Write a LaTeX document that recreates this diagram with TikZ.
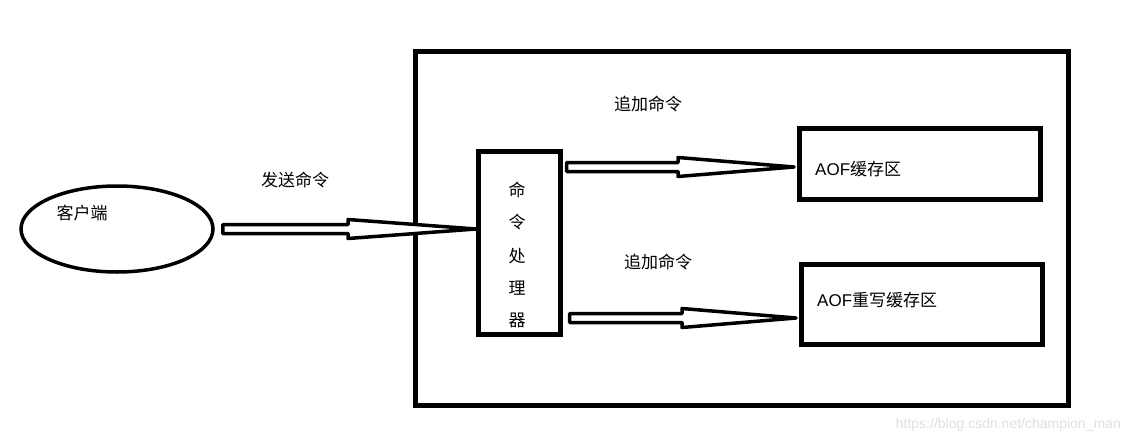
\documentclass[tikz,border=0pt]{standalone}
\usepackage{fontspec}
\newfontfamily\cjk{Noto Sans CJK SC}
\newfontfamily\lat{Liberation Sans}
\usetikzlibrary{calc,shapes.geometric}
\tikzset{
  box/.style={draw=black,line width=4.5pt,fill=white},
  lbl/.style={font=\cjk\fontsize{17}{19}\selectfont,inner sep=0pt},
  arrowline/.style={draw=black,line width=3.5pt,line join=round,fill=white},
}
\newcommand\fatarr[3]{% start, tip, x of head start
  \draw[arrowline] let \p1=(#1), \p2=(#2) in
    (\x1,\y2+4.5pt) -- (#3,\y2+4.5pt) -- (#3,\y2+9.5pt) -- (\x2,\y2)
    -- (#3,\y2-9.5pt) -- (#3,\y2-4.5pt) -- (\x1,\y2-4.5pt) -- cycle;}
\begin{document}
\begin{tikzpicture}[x=1pt,y=-1pt]
\useasboundingbox[fill=white] (0,0) rectangle (1129,442);
% client
\node[ellipse,draw,line width=3.5pt,minimum width=192pt,minimum height=86pt,inner sep=0pt] (client) at (117,229) {};
\node[lbl] (clientlbl) at (82,213) {客户端};
% server
\node[box,minimum width=653pt,minimum height=354pt,anchor=north west,inner sep=0pt] (server) at (413,49) {};
\node[box,minimum width=82pt,minimum height=183pt,anchor=north west,inner sep=0pt] (proc) at (476,149) {};
\node[lbl] (p1) at (517,190) {命};
\node[lbl] (p2) at (517,222) {令};
\node[lbl] (p3) at (517,256) {处};
\node[lbl] (p4) at (517,288) {理};
\node[lbl] (p5) at (517,320) {器};
\node[box,minimum width=241pt,minimum height=71pt,anchor=north west,inner sep=0pt] (aof) at (797,126) {};
\node[lbl,anchor=west] (aoflbl) at (815,169) {{\lat AOF}缓存区};
\node[box,minimum width=241pt,minimum height=80pt,anchor=north west,inner sep=0pt] (aofr) at (799,262) {};
\node[lbl,anchor=west] (aofrlbl) at (817,300) {{\lat AOF}重写缓存区};
% labels
\node[lbl] (send) at (295,180) {发送命令};
\node[lbl] (app1) at (648,104) {追加命令};
\node[lbl] (app2) at (658,262) {追加命令};
% arrows
\coordinate (a1s) at ([xshift=8pt]client.east);
\coordinate (a1t) at (proc.west |- 0,229);
\fatarr{a1s}{a1t}{348pt}
\coordinate (a2s) at ([xshift=4pt]proc.east |- 0,165);
\coordinate (a2t) at ([xshift=-3pt]aof.west |- 0,167);
\fatarr{a2s}{a2t}{678pt}
\coordinate (a3s) at ([xshift=7pt]proc.east |- 0,318);
\coordinate (a3t) at ([xshift=-3pt]aofr.west |- 0,318);
\fatarr{a3s}{a3t}{682pt}
% watermark
\node[font=\lat\fontsize{14}{16}\selectfont,text=black!12,anchor=east,inner sep=0pt] (wm) at (1121,425) {https://blog.csdn.net/champion\_man};
\end{tikzpicture}
\end{document}
